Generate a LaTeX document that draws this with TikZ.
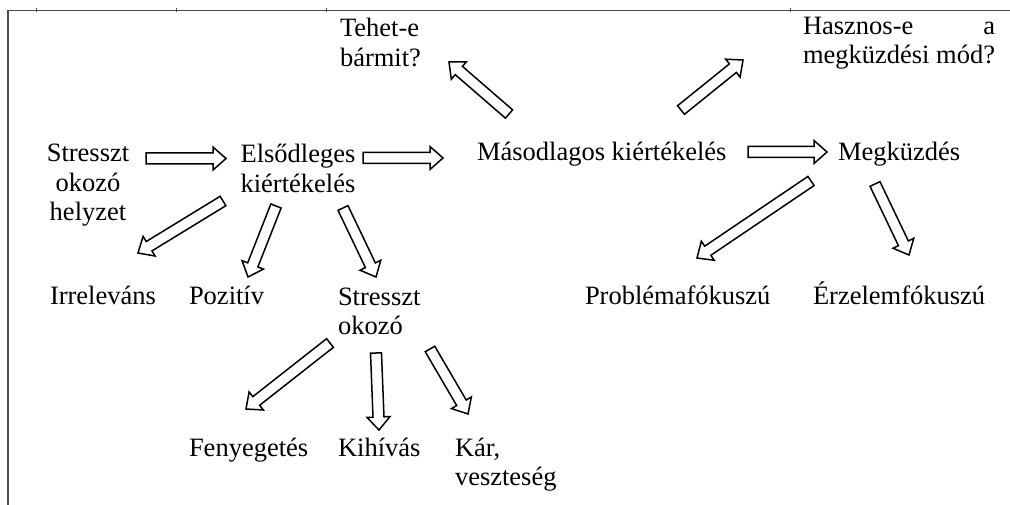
\documentclass[tikz,border=0pt]{standalone}
\usepackage{fontspec}
\setmainfont{Liberation Serif}
\usetikzlibrary{calc}
\newcommand\blockarrow[2]{%
  \draw[barrow] ($(#1)!5.5pt!90:(#2)$) -- ($(#2)!13pt!(#1)!5.5pt!-90:(#1)$)
    -- ($(#2)!13pt!(#1)!11.5pt!-90:(#1)$) -- (#2)
    -- ($(#2)!13pt!(#1)!11.5pt!90:(#1)$) -- ($(#2)!13pt!(#1)!5.5pt!90:(#1)$)
    -- ($(#1)!5.5pt!-90:(#2)$) -- cycle;}
\tikzset{
  txt/.style={inner sep=0pt, outer sep=0pt, font=\fontsize{26.5}{29.5}\selectfont},
  barrow/.style={draw=black, fill=white, line width=1.5pt, line join=miter},
  frame/.style={draw=black!70, line width=1.1pt},
  tick/.style={draw=black!70, line width=0.8pt}
}
\begin{document}
\begin{tikzpicture}[x=1pt,y=-1pt]
\useasboundingbox (0,0) rectangle (1010,505);
% frame
\coordinate (fc) at (8,10.5);
\coordinate (fr) at (1010,10.5);
\coordinate (fb) at (8,505);
\draw[frame] (fr) -- (fc) -- (fb);
\foreach \x in {36,176,326,790} \draw[tick] (\x,8.5) -- (\x,12.5);

% texts (multi-line nodes: base = baseline of the last line)
\node[txt, align=center, anchor=base] (s1) at (88,221) {Stresszt\\okozó\\helyzet};
\node[txt, align=center, anchor=base] (e1) at (298,192.5) {Elsődleges\\kiértékelés};
\node[txt, anchor=base west] (m1) at (477,160.5) {Másodlagos kiértékelés};
\node[txt, anchor=base west] (mk) at (838,160.5) {Megküzdés};
\node[txt, align=left, anchor=base west] (teh) at (340,66.5) {Tehet-e\\bármit?};
\node[txt, align=left, anchor=base west] (has) at (803,64)
  {{\setbox0\hbox{megküzdési mód?}\hbox to \wd0{Hasznos-e\hfill a}}\\megküzdési mód?};
\node[txt, anchor=base west] (irr) at (50,305) {Irreleváns};
\node[txt, anchor=base west] (poz) at (189,305) {Pozitív};
\node[txt, align=left, anchor=base west] (s2) at (338,334.5) {Stresszt\\okozó};
\node[txt, anchor=base west] (pro) at (585,305) {Problémafókuszú};
\node[txt, anchor=base west] (erz) at (813,305) {Érzelemfókuszú};
\node[txt, anchor=base west] (fen) at (189,456) {Fenyegetés};
\node[txt, anchor=base west] (kih) at (338,456) {Kihívás};
\node[txt, align=left, anchor=base west] (kar) at (455,485.5) {Kár,\\veszteség};

% arrow end points
\coordinate (a1t) at (146,158.5);  \coordinate (a1h) at (226,158.5);
\coordinate (a2t) at (363,158);    \coordinate (a2h) at (443,158);
\coordinate (a3t) at (748,152);    \coordinate (a3h) at (827,152);
\coordinate (a4t) at (509,114);    \coordinate (a4h) at (449,62);
\coordinate (a5t) at (681,110);    \coordinate (a5h) at (743,60);
\coordinate (a6t) at (223,201);    \coordinate (a6h) at (138,253);
\coordinate (a7t) at (276,206);    \coordinate (a7h) at (248,277);
\coordinate (a8t) at (343,208);    \coordinate (a8h) at (376,277);
\coordinate (a9t) at (811,181);    \coordinate (a9h) at (697,258);
\coordinate (a10t) at (875,184);   \coordinate (a10h) at (909,255);
\coordinate (a11t) at (330,343);   \coordinate (a11h) at (246,409);
\coordinate (a12t) at (376,353);   \coordinate (a12h) at (379,430);
\coordinate (a13t) at (430,349);   \coordinate (a13h) at (468,414);

\foreach \i in {1,...,13} {\blockarrow{a\i t}{a\i h}}
\end{tikzpicture}
\end{document}
